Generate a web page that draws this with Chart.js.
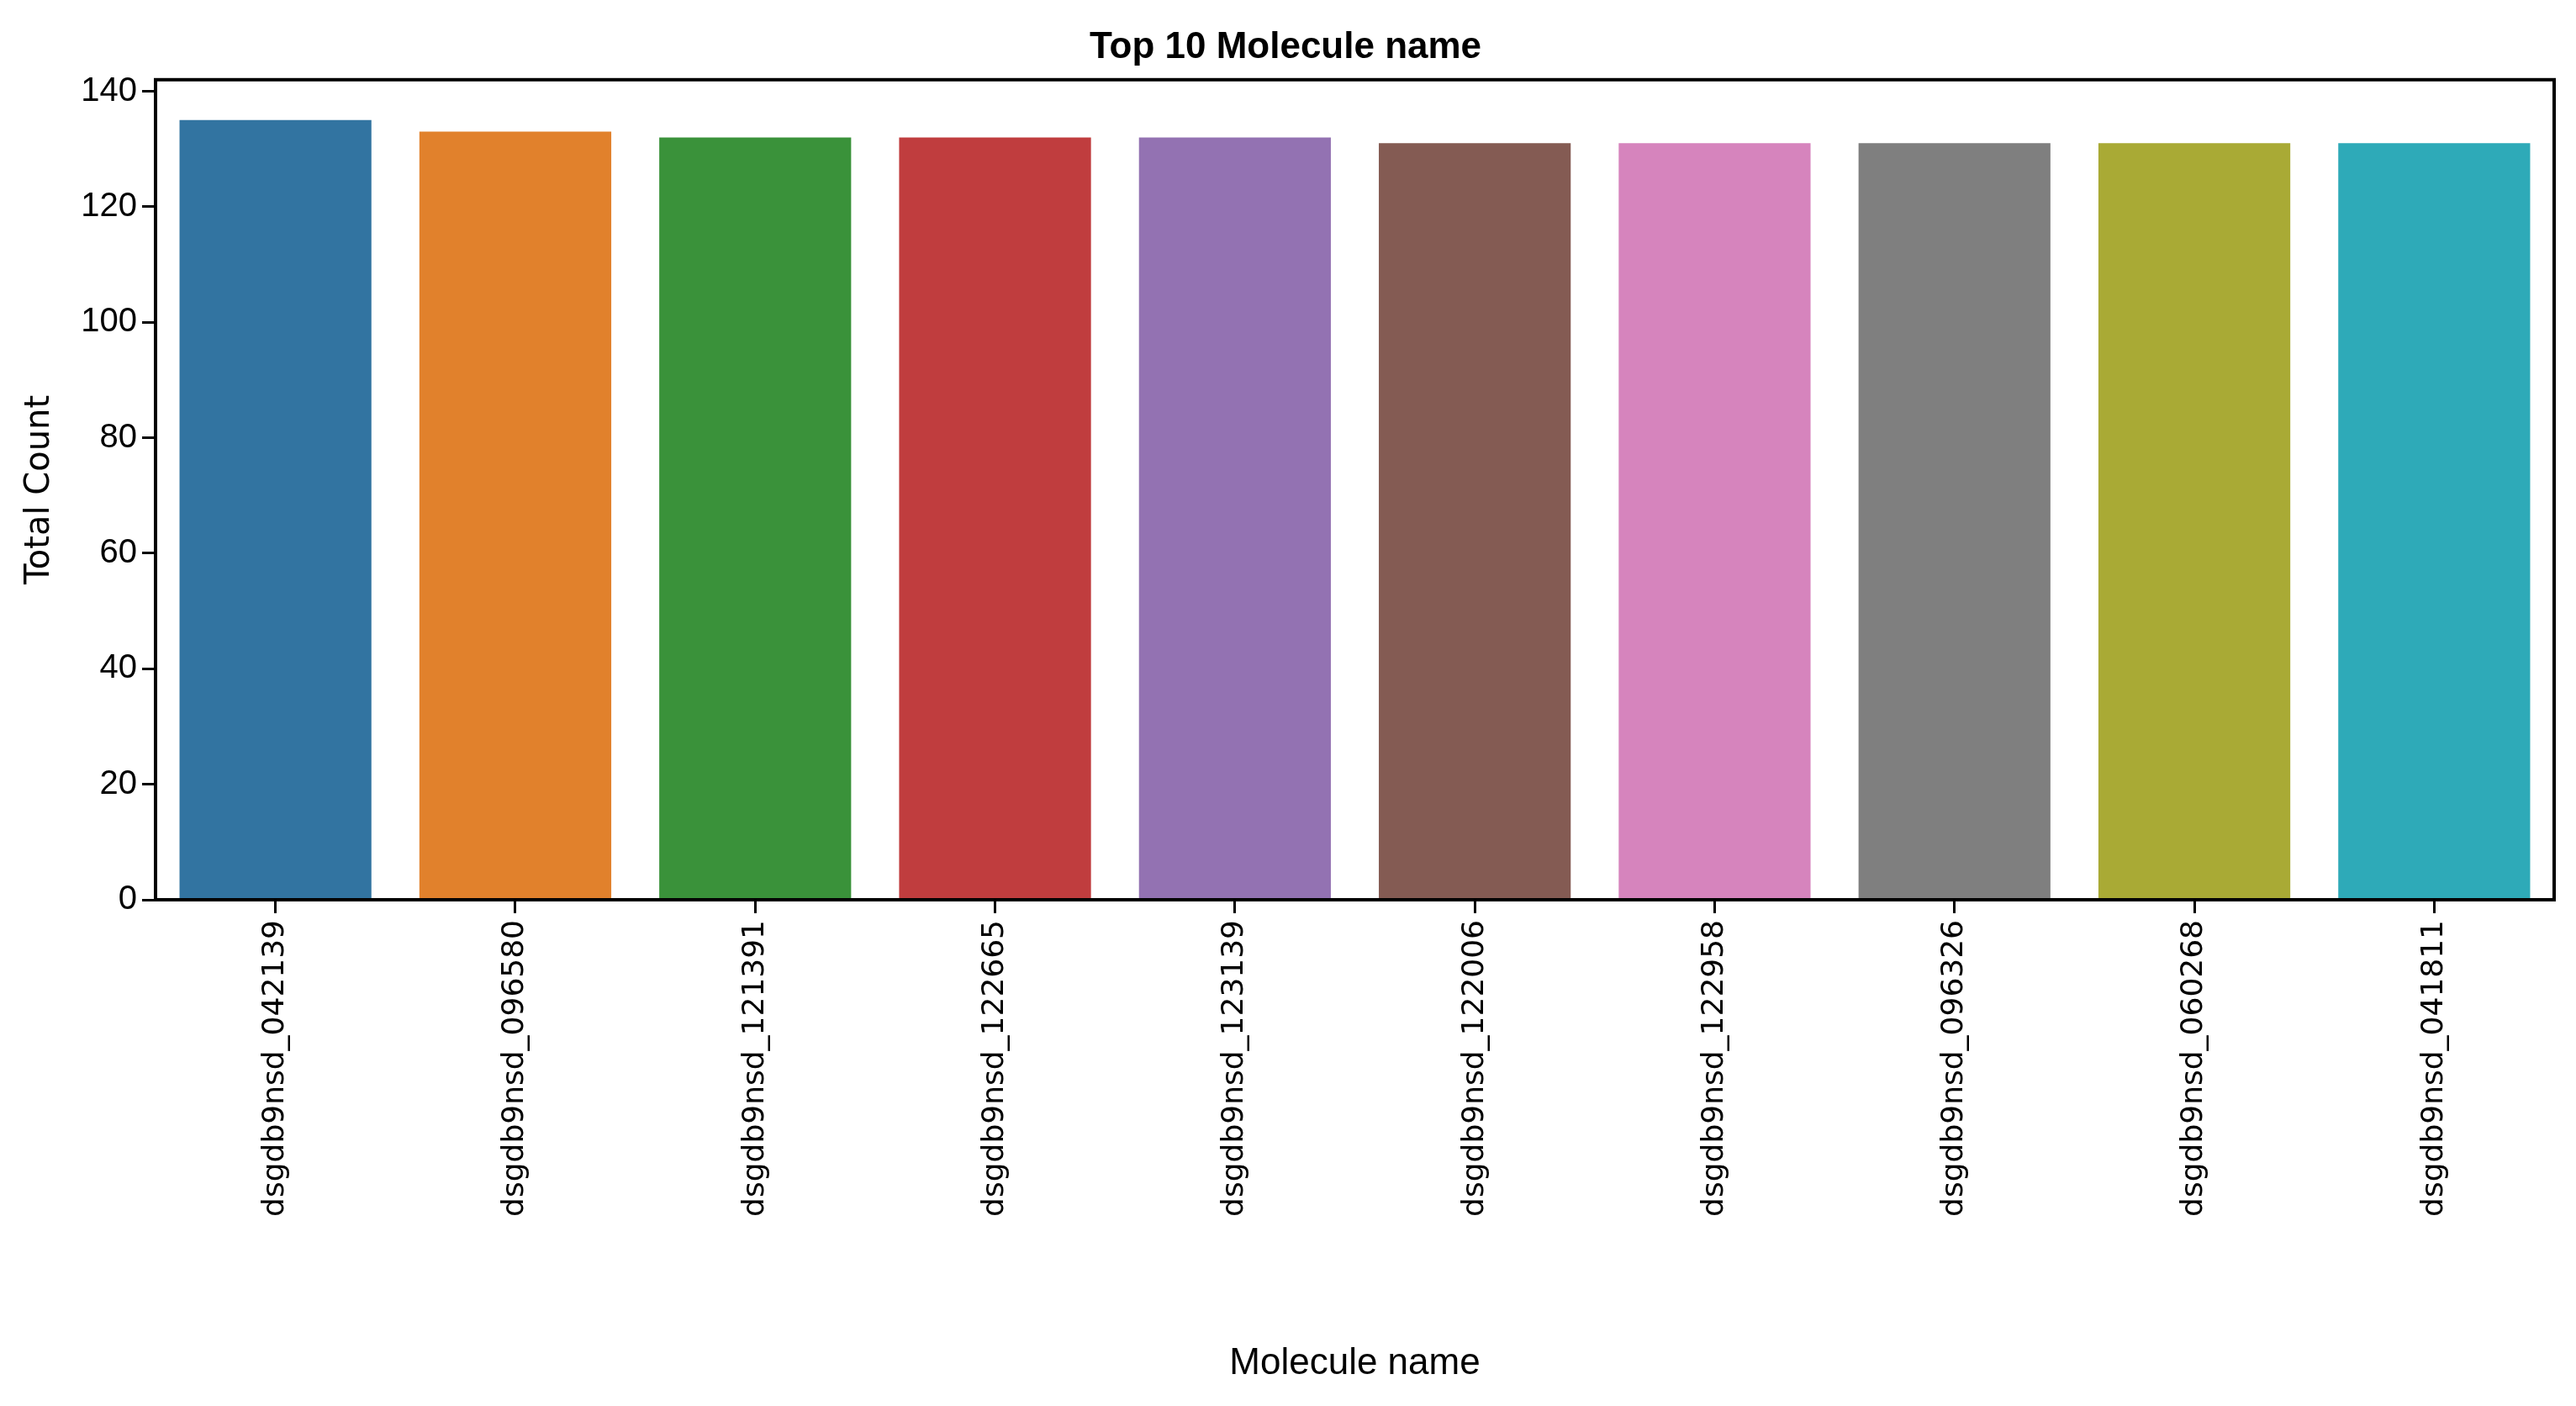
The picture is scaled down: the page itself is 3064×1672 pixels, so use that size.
<!DOCTYPE html>
<html><head><meta charset="utf-8">
<script src="https://cdn.jsdelivr.net/npm/chart.js@4"></script>
<style>html,body{margin:0;padding:0;background:#fff}#w{width:3064px;height:1672px}</style>
</head><body><div id="w"><canvas id="c"></canvas></div>
<script>
const categories=["dsgdb9nsd_042139","dsgdb9nsd_096580","dsgdb9nsd_121391","dsgdb9nsd_122665","dsgdb9nsd_123139","dsgdb9nsd_122006","dsgdb9nsd_122958","dsgdb9nsd_096326","dsgdb9nsd_060268","dsgdb9nsd_041811"];
const counts=[135,133,132,132,132,131,131,131,131,131];
const colors=["#3274a1","#e1812c","#3a923a","#c03d3e","#9372b2","#845b53","#d684bd","#7f7f7f","#a9aa35","#2eaab8"];
const yTicks=[0,20,40,60,80,100,120,140];
const boxPlugin={id:'box',afterDraw(ch){const a=ch.chartArea,c=ch.ctx;c.save();c.strokeStyle='#000';c.lineWidth=4;c.strokeRect(a.left,a.top,a.right-a.left,a.bottom-a.top);c.restore();}};
new Chart(document.getElementById('c'),{type:'bar',
data:{labels:categories,datasets:[{data:counts,backgroundColor:colors,categoryPercentage:0.8,barPercentage:1}]},
options:{responsive:true,maintainAspectRatio:false,animation:false,devicePixelRatio:1,
layout:{padding:{top:30,right:26,left:20,bottom:20}},
plugins:{legend:{display:false},tooltip:{enabled:false},
title:{display:true,text:'Top 10 Molecule name',color:'#000',font:{family:'Liberation Sans',size:44},padding:{top:0,bottom:12}}},
scales:{
x:{grid:{display:true,drawOnChartArea:false,color:'#000',lineWidth:3,tickLength:16,offset:false},border:{color:'#000',width:4},
ticks:{color:'#000',font:{family:'DejaVu Sans',size:36},maxRotation:90,minRotation:90,padding:8},
title:{display:true,text:'Molecule name',color:'#000',font:{family:'Liberation Sans',size:44},padding:{top:4}},
afterFit(s){s.height=1672-1070-20;}},
y:{min:0,max:142,afterBuildTicks(s){s.ticks=yTicks.map(v=>({value:v}));},
grid:{display:true,drawOnChartArea:false,color:'#000',lineWidth:3,tickLength:16},border:{color:'#000',width:4},
ticks:{color:'#000',font:{family:'Liberation Sans',size:40},padding:6},
title:{display:true,text:'Total Count',color:'#000',font:{family:'DejaVu Sans',size:40}},
afterFit(s){s.width=185-20;}}}},
plugins:[boxPlugin]});
</script></body></html>
